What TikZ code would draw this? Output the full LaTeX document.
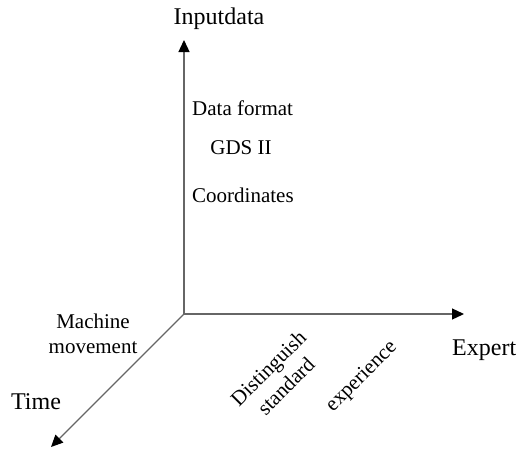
\documentclass[tikz,border=0pt]{standalone}
\usepackage{fontspec}
\setmainfont{Liberation Serif}
\usetikzlibrary{arrows.meta}

\begin{document}
\begin{tikzpicture}[x=1pt,y=-1pt,>={Triangle[length=12pt,width=11pt]},
  axis/.style={draw=black!60,line width=1.3pt},
  big/.style={font=\fontsize{24}{28}\selectfont,inner sep=0pt},
  lab/.style={font=\fontsize{21}{25}\selectfont,inner sep=0pt,align=center}]
\useasboundingbox (0,0) rectangle (520,448);
% --- origin and axis tips ---
\coordinate (O)    at (184,314);
\coordinate (up)   at (184,40);
\coordinate (rt)   at (464,314);
\coordinate (dn)   at (51,447);
% --- axis names ---
\node[big] (inp)  at (219,19)  {Inputdata};
\node[big,anchor=west] (exp) at (452,350) {Expert};
\node[big] (time) at (36,402)  {Time};
% --- entries ---
\node[lab,anchor=west] (fmt) at (192,108) {Data format};
\node[lab] (gds)  at (241,148) {GDS II};
\node[lab,anchor=west] (crd) at (192,195) {Coordinates};
\node[lab] (mach) at (93,334)  {Machine\\movement};
\node[lab,rotate=45] (dist) at (277,377) {Distinguish\\standard};
\node[lab,rotate=45] (expr) at (362,377) {experience};
% --- axes ---
\draw[axis,-{>[fill=black,color=black]}] (O) -- (up);
\draw[axis,-{>[fill=black,color=black]}] (O) -- (rt);
\draw[axis,-{>[fill=black,color=black]}] (O) -- (dn);
\end{tikzpicture}
\end{document}
